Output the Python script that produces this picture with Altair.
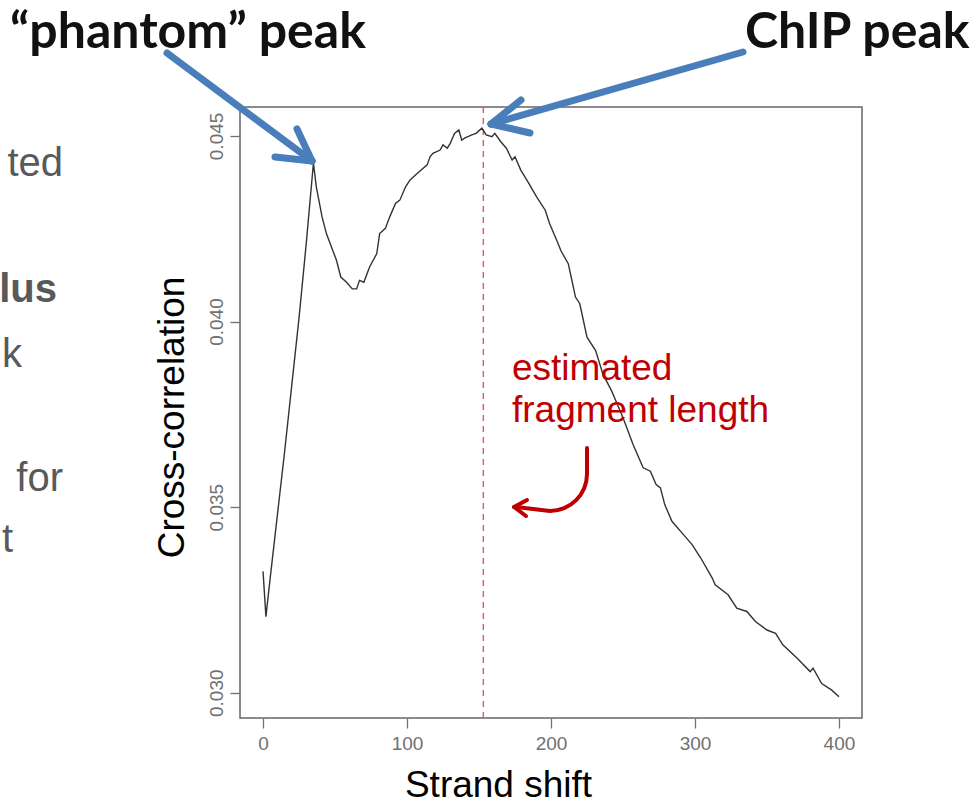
import math
import altair as alt
import pandas as pd

# Strand cross-correlation profile (shift in bp, cross-correlation)
shift = [0, 2, 5, 10, 15, 20, 25, 30, 35, 37, 41, 44, 51, 54, 58, 62, 65, 67, 70, 74,
         79, 81, 85, 88, 92, 95, 99, 102, 107, 114, 116, 118, 123, 125, 128, 130, 133,
         136, 138, 140, 145, 148, 152, 155, 159, 161, 165, 169, 173, 175, 179, 184, 190,
         196, 199, 203, 207, 212, 214, 217, 220, 225, 231, 236, 242, 246, 250, 257, 264,
         269, 273, 276, 279, 284, 292, 298, 304, 312, 314, 323, 329, 336, 342, 350, 356,
         361, 371, 380, 382, 388, 395, 400]
cross_corr = [0.03327, 0.03205, 0.03310, 0.03480, 0.03650, 0.03830, 0.04010, 0.04210,
              0.04427, 0.04363, 0.04282, 0.04237, 0.04165, 0.04120, 0.04106, 0.04088,
              0.04088, 0.04111, 0.04106, 0.04147, 0.04183, 0.04237, 0.04251, 0.04282,
              0.04318, 0.04327, 0.04363, 0.04381, 0.04399, 0.04422, 0.04444, 0.04453,
              0.04462, 0.04476, 0.04467, 0.04480, 0.04507, 0.04516, 0.04489, 0.04494,
              0.04503, 0.04507, 0.04521, 0.04503, 0.04498, 0.04507, 0.04485, 0.04467,
              0.04435, 0.04444, 0.04408, 0.04376, 0.04336, 0.04300, 0.04264, 0.04228,
              0.04190, 0.04156, 0.04120, 0.04066, 0.04048, 0.03958, 0.03922, 0.03859,
              0.03814, 0.03778, 0.03741, 0.03669, 0.03606, 0.03597, 0.03561, 0.03552,
              0.03507, 0.03462, 0.03426, 0.03399, 0.03363, 0.03309, 0.03291, 0.03264,
              0.03228, 0.03219, 0.03192, 0.03169, 0.03160, 0.03129, 0.03093, 0.03057,
              0.03066, 0.03025, 0.03007, 0.02989]
fragment_length = [153]

x_ticks = [0, 100, 200, 300, 400]
y_ticks = [0.030, 0.035, 0.040, 0.045]

# Plot area placement inside the 977 x 804 page
X0, Y0 = 240, 107
W, H = 622, 611
one = pd.DataFrame({"k": [0]})

curve_df = pd.DataFrame({"shift": shift, "cc": cross_corr})
frag_df = pd.DataFrame({"shift": fragment_length})

x_scale = alt.Scale(domain=[-16, 416], nice=False, zero=False)
y_scale = alt.Scale(domain=[0.02932, 0.04578], nice=False, zero=False)

curve = alt.Chart(curve_df).mark_line(color="#333333", strokeWidth=1.4).encode(
    x=alt.X("shift:Q", scale=x_scale, axis=alt.Axis(
        values=x_ticks, format="d", title="Strand shift",
        titleFont="Liberation Sans", titleFontSize=37, titleFontWeight="normal",
        titleColor="#000000", titleX=258, titleY=78, titleAlign="center",
        titleBaseline="alphabetic", titleAngle=0,
        labelFont="Liberation Sans", labelFontSize=19, labelColor="#707070",
        labelPadding=6, labelFlush=False, labelOverlap=False,
        tickSize=10, tickColor="#707070", tickWidth=1.3,
        domain=False, grid=False)),
    y=alt.Y("cc:Q", scale=y_scale, axis=alt.Axis(
        values=y_ticks, format=".3f", title="Cross-correlation",
        titleFont="Liberation Sans", titleFontSize=37, titleFontWeight="normal",
        titleColor="#000000", titleX=-57, titleY=310, titleAngle=270,
        titleAlign="center", titleBaseline="alphabetic",
        labelFont="Liberation Sans", labelFontSize=19, labelColor="#707070",
        labelAngle=270, labelAlign="center", labelBaseline="alphabetic",
        labelPadding=8, labelFlush=False, labelOverlap=False,
        tickSize=10, tickColor="#707070", tickWidth=1.3,
        domain=False, grid=False)),
    order=alt.Order("shift:Q"),
)

frag_rule = alt.Chart(frag_df).mark_rule(
    color="#e05a64", strokeWidth=1.4, strokeDash=[6, 5]
).encode(x=alt.X("shift:Q", scale=x_scale))


def seg(x1, y1, x2, y2, color, width):
    return alt.Chart(one).mark_rule(color=color, strokeWidth=width, strokeCap="round").encode(
        x=alt.value(x1 - X0), y=alt.value(y1 - Y0),
        x2=alt.value(x2 - X0), y2=alt.value(y2 - Y0))


def label(text, cx, cy, size, color, font, weight="normal", align="left"):
    return alt.Chart(one).mark_text(
        text=text, fontSize=size, font=font, fontWeight=weight, color=color,
        align=align, baseline="alphabetic"
    ).encode(x=alt.value(cx - X0), y=alt.value(cy - Y0))


BLUE = "#4a7ebb"
RED = "#c00000"
GREY = "#595959"

arrows = [
    # "phantom" peak arrow
    seg(167, 53, 312, 161, BLUE, 7),
    seg(275, 157, 312, 161, BLUE, 7),
    seg(297, 129, 312, 161, BLUE, 7),
    # ChIP peak arrow
    seg(743, 52, 491, 124, BLUE, 7),
    seg(521, 100, 491, 124, BLUE, 7),
    seg(530, 133, 491, 124, BLUE, 7),
    # curved pointer towards the dashed line
    seg(587, 448, 587, 474, RED, 4),
    seg(550, 511, 516, 507, RED, 4),
    seg(527, 500, 514, 507, RED, 4),
    seg(526, 516, 514, 507, RED, 4),
]

bend = alt.Chart(one).mark_arc(
    color=RED, theta=math.pi / 2, theta2=math.pi, radius=39, radius2=35
).encode(x=alt.value(550 - X0), y=alt.value(474 - Y0))

texts = [
    label("\u201cphantom\u201d peak", 10, 48, 50, "#111111", "Lato", "bold"),
    label("ChIP peak", 745, 48, 50, "#111111", "Lato", "bold"),
    label("estimated", 512, 380, 37, RED, "Liberation Sans"),
    label("fragment length", 512, 422, 37, RED, "Liberation Sans"),
    label("ted", 63, 176, 40, GREY, "Liberation Sans", align="right"),
    label("lus", 57, 302, 40, GREY, "Liberation Sans", "bold", align="right"),
    label("k", 22, 367, 40, GREY, "Liberation Sans", align="right"),
    label("for", 63, 491, 40, GREY, "Liberation Sans", align="right"),
    label("t", 13, 552, 40, GREY, "Liberation Sans", align="right"),
]

chart = alt.layer(frag_rule, curve, *arrows, bend, *texts).properties(
    width=W, height=H,
    autosize=alt.AutoSizeParams(type="none"),
    padding={"left": X0, "top": Y0, "right": 977 - X0 - W, "bottom": 804 - Y0 - H},
    background="white",
).configure_view(stroke="#666666", strokeWidth=1.5)

chart.save("out.html", embed_options={"renderer": "svg", "actions": False})
